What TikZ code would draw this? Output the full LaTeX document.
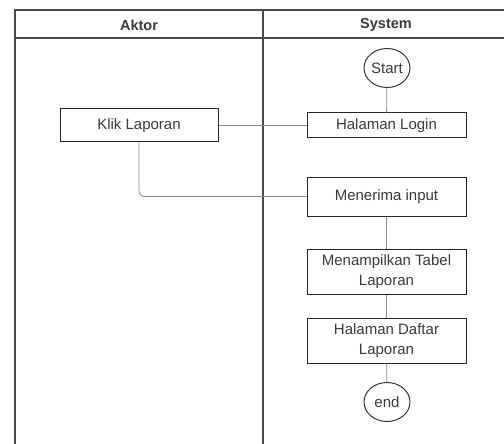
\documentclass[tikz,border=0pt]{standalone}
\usepackage{fontspec}
\setmainfont{Liberation Sans}
\usetikzlibrary{shapes.geometric}
\definecolor{txt}{HTML}{3A3A3A}
\definecolor{frame}{HTML}{4A4A4A}
\definecolor{conn}{HTML}{8A8A8A}
\begin{document}
\begin{tikzpicture}[x=1pt,y=-1pt,
  box/.style={draw=black!85,line width=1pt,minimum width=159pt,text=txt,font=\fontsize{15}{20}\selectfont,align=center,inner sep=0pt},
  term/.style={draw=black!80,line width=1pt,ellipse,minimum width=46pt,minimum height=39pt,inner sep=0pt,text=txt,font=\fontsize{15}{18}\selectfont},
  conn/.style={draw=conn,line width=0.8pt},
  lane/.style={draw=frame,line width=1.4pt},
  head/.style={text=txt,font=\bfseries\fontsize{14.5}{17}\selectfont}]
\useasboundingbox (0,0) rectangle (504,444);
% frame
\draw[lane] (15,444) -- (15,10) -- (504,10);
\draw[lane] (15,38) -- (504,38);
\draw[lane] (263,10) -- (263,444);
\node[head] (hA) at (139,25) {Aktor};
\node[head] (hS) at (386,25) {System};
% nodes
\node[term] (start) at (387,68) {Start};
\node[box,minimum height=25pt] (login) at (386.5,125.5) {Halaman Login};
\node[box,minimum height=33pt,minimum width=158pt] (klik) at (139,125.5) {Klik Laporan};
\node[box,minimum height=39pt] (input) at (386.5,196.5) {Menerima input};
\node[box,minimum height=45pt] (tabel) at (386.5,271.5) {Menampilkan Tabel\\Laporan};
\node[box,minimum height=45pt] (daftar) at (386.5,340.5) {Halaman Daftar\\Laporan};
\node[term] (end) at (387,402) {end};
% connectors
\draw[conn] (start) -- (login);
\draw[conn] (klik) -- (login);
\draw[conn,rounded corners=5pt] (klik.south) |- (input.west);
\draw[conn] (input) -- (tabel);
\draw[conn] (tabel) -- (daftar);
\draw[conn] (daftar) -- (end);
\end{tikzpicture}
\end{document}
